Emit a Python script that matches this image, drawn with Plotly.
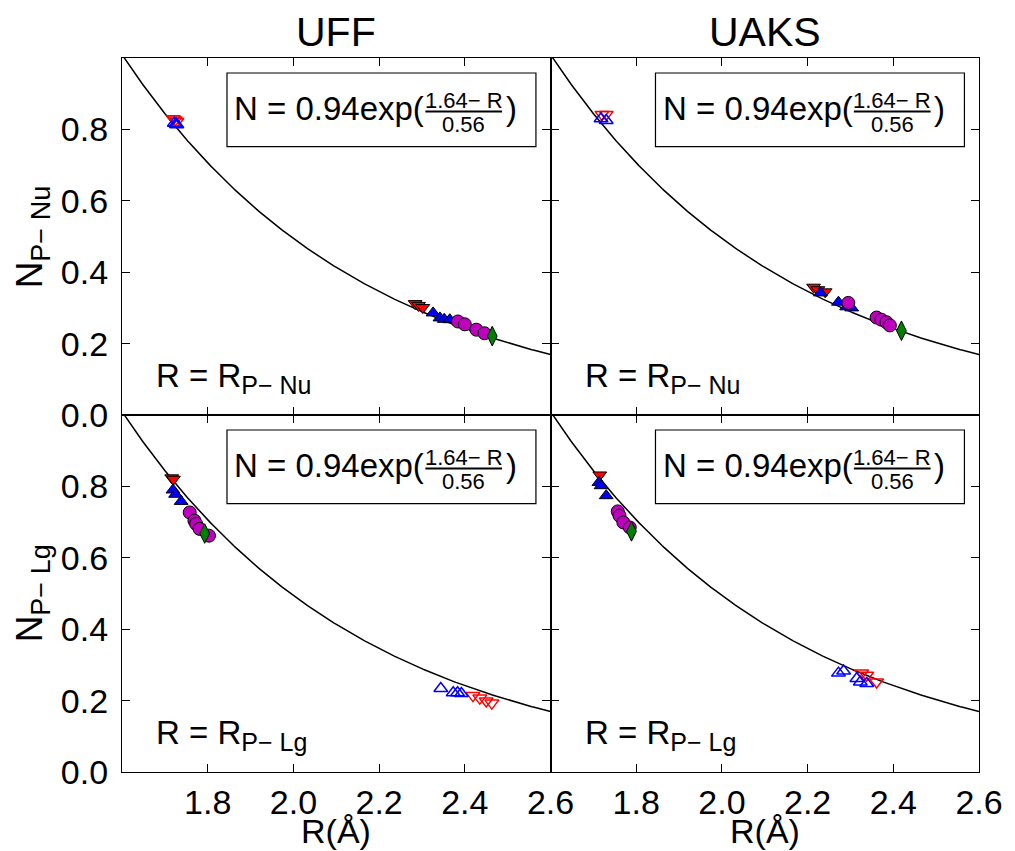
import numpy as np
import plotly.graph_objects as go
from plotly.subplots import make_subplots

# ---------------- data ----------------
fit_a = 0.94
fit_r0 = 1.64
fit_b = 0.56
r_min, r_max = 1.6, 2.6

col_titles = ["UFF", "UAKS"]
row_ylabels = ["N<sub><span style='font-size:27px'>P− Nu</span></sub>",
               "N<sub><span style='font-size:27px'>P− Lg</span></sub>"]
row_rlabels = ["R = R<sub><span style='font-size:25px'>P− Nu</span></sub>",
               "R = R<sub><span style='font-size:25px'>P− Lg</span></sub>"]
x_ticks = [1.8, 2.0, 2.2, 2.4, 2.6]
x_ticktext = ["1.8", "2.0", "2.2", "2.4", "2.6"]
y_ticks = [0.0, 0.2, 0.4, 0.6, 0.8]
y_ticktext = ["0.0", "0.2", "0.4", "0.6", "0.8"]

# UFF, R = R(P-Nu)
uff_nu_red_R = [2.284, 2.292, 2.302]
uff_nu_red_N = [0.312, 0.307, 0.301]
uff_nu_blue_R = [2.326, 2.342, 2.352, 2.365]
uff_nu_blue_N = [0.286, 0.272, 0.268, 0.267]
uff_nu_mag_R = [2.384, 2.400, 2.427, 2.446]
uff_nu_mag_N = [0.262, 0.254, 0.239, 0.229]
uff_nu_grn_R = [2.464]
uff_nu_grn_N = [0.221]
uff_nu_redo_R = [1.720, 1.724, 1.728]
uff_nu_redo_N = [0.830, 0.826, 0.822]
uff_nu_blueo_R = [1.722, 1.726, 1.728]
uff_nu_blueo_N = [0.817, 0.815, 0.813]

# UAKS, R = R(P-Nu)
uaks_nu_red_R = [2.214, 2.224, 2.241]
uaks_nu_red_N = [0.358, 0.351, 0.345]
uaks_nu_blue_R = [2.230, 2.272, 2.291, 2.303]
uaks_nu_blue_N = [0.342, 0.316, 0.303, 0.300]
uaks_nu_mag_R = [2.295, 2.361, 2.372, 2.384, 2.392]
uaks_nu_mag_N = [0.314, 0.273, 0.267, 0.260, 0.251]
uaks_nu_grn_R = [2.419]
uaks_nu_grn_N = [0.236]
uaks_nu_redo_R = [1.720, 1.730]
uaks_nu_redo_N = [0.842, 0.842]
uaks_nu_blueo_R = [1.718, 1.730]
uaks_nu_blueo_N = [0.830, 0.825]

# UFF, R = R(P-Lg)
uff_lg_red_R = [1.716, 1.720]
uff_lg_red_N = [0.824, 0.820]
uff_lg_blue_R = [1.719, 1.725, 1.738]
uff_lg_blue_N = [0.790, 0.778, 0.758]
uff_lg_mag_R = [1.758, 1.769, 1.773, 1.781, 1.803]
uff_lg_mag_N = [0.727, 0.704, 0.695, 0.681, 0.662]
uff_lg_grn_R = [1.793]
uff_lg_grn_N = [0.668]
uff_lg_blueo_R = [2.344, 2.373, 2.383, 2.392]
uff_lg_blueo_N = [0.234, 0.222, 0.222, 0.220]
uff_lg_redo_R = [2.419, 2.435, 2.450, 2.463]
uff_lg_redo_N = [0.214, 0.207, 0.199, 0.193]

# UAKS, R = R(P-Lg)
uaks_lg_red_R = [1.715]
uaks_lg_red_N = [0.832]
uaks_lg_blue_R = [1.713, 1.718, 1.730]
uaks_lg_blue_N = [0.811, 0.802, 0.774]
uaks_lg_mag_R = [1.757, 1.761, 1.770, 1.785]
uaks_lg_mag_N = [0.730, 0.718, 0.699, 0.685]
uaks_lg_grn_R = [1.789]
uaks_lg_grn_N = [0.674]
uaks_lg_blueo_R = [2.272, 2.284, 2.315, 2.323, 2.338]
uaks_lg_blueo_N = [0.277, 0.283, 0.262, 0.252, 0.248]
uaks_lg_redo_R = [2.326, 2.338, 2.361]
uaks_lg_redo_N = [0.277, 0.271, 0.252]

FONT = "Liberation Sans"
RED = "#FF0000"
BLUE = "#0000FF"
MAG = "#BF00BF"
GRN = "#008000"

fig = make_subplots(rows=2, cols=2, horizontal_spacing=0, vertical_spacing=0)

# fitted curve
R_curve = np.linspace(r_min, r_max, 300)
N_curve = fit_a * np.exp((fit_r0 - R_curve) / fit_b)


def add_panel(row, col, red, blue, mag, grn, redo, blueo):
    fig.add_trace(go.Scatter(x=R_curve, y=N_curve, mode="lines",
                             line=dict(color="black", width=1.5),
                             showlegend=False, hoverinfo="skip"), row=row, col=col)
    specs = [
        (redo, "triangle-down-open", RED, 12, dict(color=RED, width=1.5)),
        (blueo, "triangle-up-open", BLUE, 12, dict(color=BLUE, width=1.5)),
        (red, "triangle-down", RED, 12, dict(color="black", width=1)),
        (blue, "triangle-up", BLUE, 12, dict(color="black", width=1)),
        (mag, "circle", MAG, 13, dict(color="black", width=1)),
        (grn, "diamond-tall", GRN, 14, dict(color="black", width=1)),
    ]
    for (xs, ys), sym, colr, sz, ln in specs:
        fig.add_trace(go.Scatter(x=xs, y=ys, mode="markers",
                                 marker=dict(symbol=sym, color=colr, size=sz, line=ln),
                                 showlegend=False), row=row, col=col)


add_panel(1, 1, (uff_nu_red_R, uff_nu_red_N), (uff_nu_blue_R, uff_nu_blue_N),
          (uff_nu_mag_R, uff_nu_mag_N), (uff_nu_grn_R, uff_nu_grn_N),
          (uff_nu_redo_R, uff_nu_redo_N), (uff_nu_blueo_R, uff_nu_blueo_N))
add_panel(1, 2, (uaks_nu_red_R, uaks_nu_red_N), (uaks_nu_blue_R, uaks_nu_blue_N),
          (uaks_nu_mag_R, uaks_nu_mag_N), (uaks_nu_grn_R, uaks_nu_grn_N),
          (uaks_nu_redo_R, uaks_nu_redo_N), (uaks_nu_blueo_R, uaks_nu_blueo_N))
add_panel(2, 1, (uff_lg_red_R, uff_lg_red_N), (uff_lg_blue_R, uff_lg_blue_N),
          (uff_lg_mag_R, uff_lg_mag_N), (uff_lg_grn_R, uff_lg_grn_N),
          (uff_lg_redo_R, uff_lg_redo_N), (uff_lg_blueo_R, uff_lg_blueo_N))
add_panel(2, 2, (uaks_lg_red_R, uaks_lg_red_N), (uaks_lg_blue_R, uaks_lg_blue_N),
          (uaks_lg_mag_R, uaks_lg_mag_N), (uaks_lg_grn_R, uaks_lg_grn_N),
          (uaks_lg_redo_R, uaks_lg_redo_N), (uaks_lg_blueo_R, uaks_lg_blueo_N))

axis_common = dict(showline=True, linecolor="black", linewidth=1.2, mirror="ticks",
                   ticks="inside", ticklen=8, tickwidth=1, tickcolor="black",
                   showgrid=False, zeroline=False,
                   tickfont=dict(family=FONT, size=34, color="black"))

for r in (1, 2):
    for c in (1, 2):
        fig.update_xaxes(range=[r_min, r_max], tickvals=x_ticks, ticktext=x_ticktext,
                         showticklabels=(r == 2), row=r, col=c, **axis_common)
        fig.update_yaxes(range=[0, 1.0], tickvals=y_ticks, ticktext=y_ticktext,
                         showticklabels=(c == 1), ticklabelstandoff=6,
                         row=r, col=c, **axis_common)

annotations = []
shapes = []
axis_ids = {(1, 1): "", (1, 2): "2", (2, 1): "3", (2, 2): "4"}
for (r, c), aid in axis_ids.items():
    xr = "x%s domain" % aid
    yr = "y%s domain" % aid
    shapes.append(dict(type="rect", xref=xr, yref=yr, x0=0.245, x1=0.966,
                       y0=0.752, y1=0.958, line=dict(color="black", width=1.2),
                       fillcolor="white", layer="above"))
    annotations.append(dict(xref=xr, yref=yr, x=0.710, y=0.859, xanchor="right",
                            yanchor="middle", text="N = 0.94exp(", showarrow=False,
                            font=dict(family=FONT, size=33, color="black")))
    annotations.append(dict(xref=xr, yref=yr, x=0.797, y=0.880, xanchor="center",
                            yanchor="middle", text="1.64− R", showarrow=False,
                            font=dict(family=FONT, size=22, color="black")))
    annotations.append(dict(xref=xr, yref=yr, x=0.797, y=0.813, xanchor="center",
                            yanchor="middle", text="0.56", showarrow=False,
                            font=dict(family=FONT, size=22, color="black")))
    shapes.append(dict(type="line", xref=xr, yref=yr, x0=0.708, x1=0.887,
                       y0=0.850, y1=0.850, line=dict(color="black", width=2),
                       layer="above"))
    annotations.append(dict(xref=xr, yref=yr, x=0.891, y=0.859, xanchor="left",
                            yanchor="middle", text=")", showarrow=False,
                            font=dict(family=FONT, size=33, color="black")))
    annotations.append(dict(xref=xr, yref=yr, x=0.075, y=0.105, xanchor="left",
                            yanchor="middle", text=row_rlabels[r - 1], showarrow=False,
                            font=dict(family=FONT, size=33, color="black")))

# column titles
for c, t in enumerate(col_titles):
    annotations.append(dict(xref="x%s domain" % ("" if c == 0 else "2"), yref="paper",
                            x=0.5, y=1.0, xanchor="center", yanchor="bottom", yshift=1,
                            text=t, showarrow=False,
                            font=dict(family=FONT, size=41, color="black")))
    annotations.append(dict(xref="x%s domain" % ("3" if c == 0 else "4"), yref="paper",
                            x=0.5, y=-0.082, xanchor="center", yanchor="middle",
                            text="R(Å)", showarrow=False,
                            font=dict(family=FONT, size=34, color="black")))

# row y labels
for r, t in enumerate(row_ylabels):
    annotations.append(dict(xref="paper", yref="y%s domain" % ("" if r == 0 else "3"),
                            x=-0.104, y=0.5, xanchor="center", yanchor="middle",
                            textangle=-90, text=t, showarrow=False,
                            font=dict(family=FONT, size=37, color="black")))

# page body adds an 8px offset: shrink the figure to compensate
fig.update_layout(width=1007, height=843, margin=dict(l=114, r=30, t=50, b=79),
                  paper_bgcolor="white", plot_bgcolor="white",
                  annotations=annotations, shapes=shapes,
                  font=dict(family=FONT, color="black"))

fig.write_html("out.html")
